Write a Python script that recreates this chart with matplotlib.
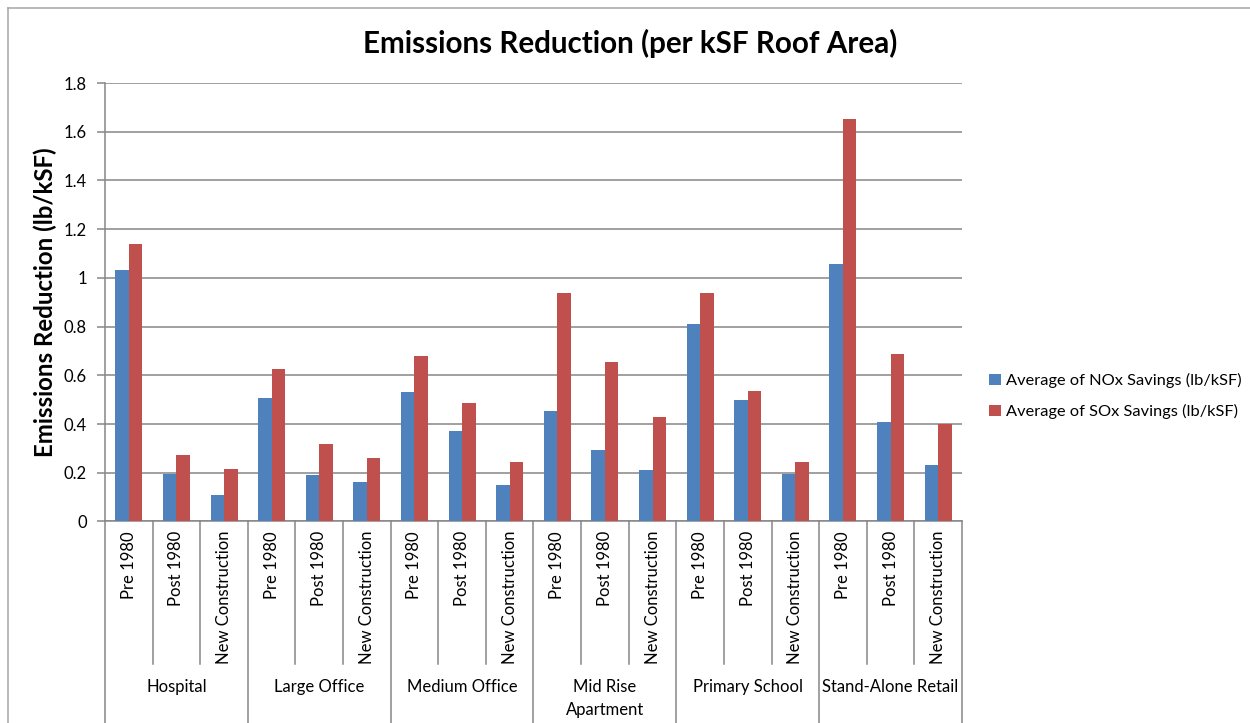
import numpy as np
import matplotlib
matplotlib.use("Agg")
import matplotlib.pyplot as plt
from matplotlib.transforms import blended_transform_factory
from matplotlib.lines import Line2D

plt.rcParams['font.family'] = ['Lato', 'DejaVu Sans']

# data
buildings = ["Hospital", "Large Office", "Medium Office", "Mid Rise\nApartment",
             "Primary School", "Stand-Alone Retail"]
vintages = ["Pre 1980", "Post 1980", "New Construction"]

nox = [1.032, 0.197, 0.109,
       0.506, 0.189, 0.163,
       0.530, 0.372, 0.149,
       0.454, 0.294, 0.213,
       0.810, 0.497, 0.193,
       1.056, 0.407, 0.232]
sox = [1.138, 0.273, 0.216,
       0.625, 0.320, 0.260,
       0.678, 0.485, 0.246,
       0.938, 0.653, 0.428,
       0.938, 0.536, 0.246,
       1.652, 0.686, 0.399]

blue = "#4F81BD"
red = "#C0504D"
grid_col = "#868686"

fig = plt.figure(figsize=(12.5, 7.23), dpi=100)
ax = fig.add_axes([0.084, 0.2787, 0.6856, 0.6065])

n = len(nox)
x = np.arange(n)
w = 0.284
ax.bar(x - w / 2, nox, width=w, color=blue, label="Average of NOx Savings (lb/kSF)", zorder=3)
ax.bar(x + w / 2, sox, width=w, color=red, label="Average of SOx Savings (lb/kSF)", zorder=3)

ax.set_xlim(-0.5, n - 0.5)
ax.set_ylim(0, 1.8)
yt = np.arange(0, 1.81, 0.2)
ax.set_yticks(yt)
ax.set_yticklabels([f"{v:g}" for v in np.round(yt, 1)], fontsize=12)
ax.tick_params(axis='y', length=6, width=1.1, color=grid_col, pad=7)
ax.set_xticks([])
ax.yaxis.grid(True, color=grid_col, linewidth=1.1, zorder=0)
ax.set_axisbelow(True)
for s in ["top", "right"]:
    ax.spines[s].set_visible(False)
for s in ["left", "bottom"]:
    ax.spines[s].set_color(grid_col)
    ax.spines[s].set_linewidth(1.1)

# multi-level category axis
tr = blended_transform_factory(ax.transData, fig.transFigure)
y_axis = 0.2787
y_inner = (723 - 664) / 723
for k in range(n + 1):
    xb = k - 0.5
    y_end = 0.0 if k % 3 == 0 else y_inner
    ax.add_line(Line2D([xb, xb], [y_axis, y_end], transform=tr, color=grid_col,
                       linewidth=1.1, clip_on=False))

for i in range(n):
    ax.text(i, (723 - 531) / 723, vintages[i % 3], transform=tr, rotation=90,
            ha='center', va='top', fontsize=12)

for g, name in enumerate(buildings):
    ax.text(3 * g + 1, (723 - 679) / 723, name, transform=tr, ha='center', va='top',
            fontsize=12, linespacing=1.55)

fig.text(45 / 1250, (723 - 302) / 723, "Emissions Reduction (lb/kSF)", rotation=90,
         ha='center', va='center', fontsize=17.3, fontweight='bold')
fig.text(0.504, 0.94, "Emissions Reduction (per kSF Roof Area)", ha='center', va='center',
         fontsize=21.3, fontweight='bold')

fig.legend(loc='center left', bbox_to_anchor=(0.7796, 0.452), frameon=False, fontsize=11.8,
           handlelength=0.7, handleheight=0.7, handletextpad=0.35, labelspacing=0.95)

# chart frame
frame_col = "#A6A6A6"
fig.add_artist(Line2D([7.5 / 1250, 7.5 / 1250], [0, (723 - 8) / 723], color=frame_col, linewidth=1.1))
fig.add_artist(Line2D([7.5 / 1250, 1], [(723 - 8) / 723, (723 - 8) / 723], color=frame_col, linewidth=1.1))

fig.savefig("out.png", dpi=100)
